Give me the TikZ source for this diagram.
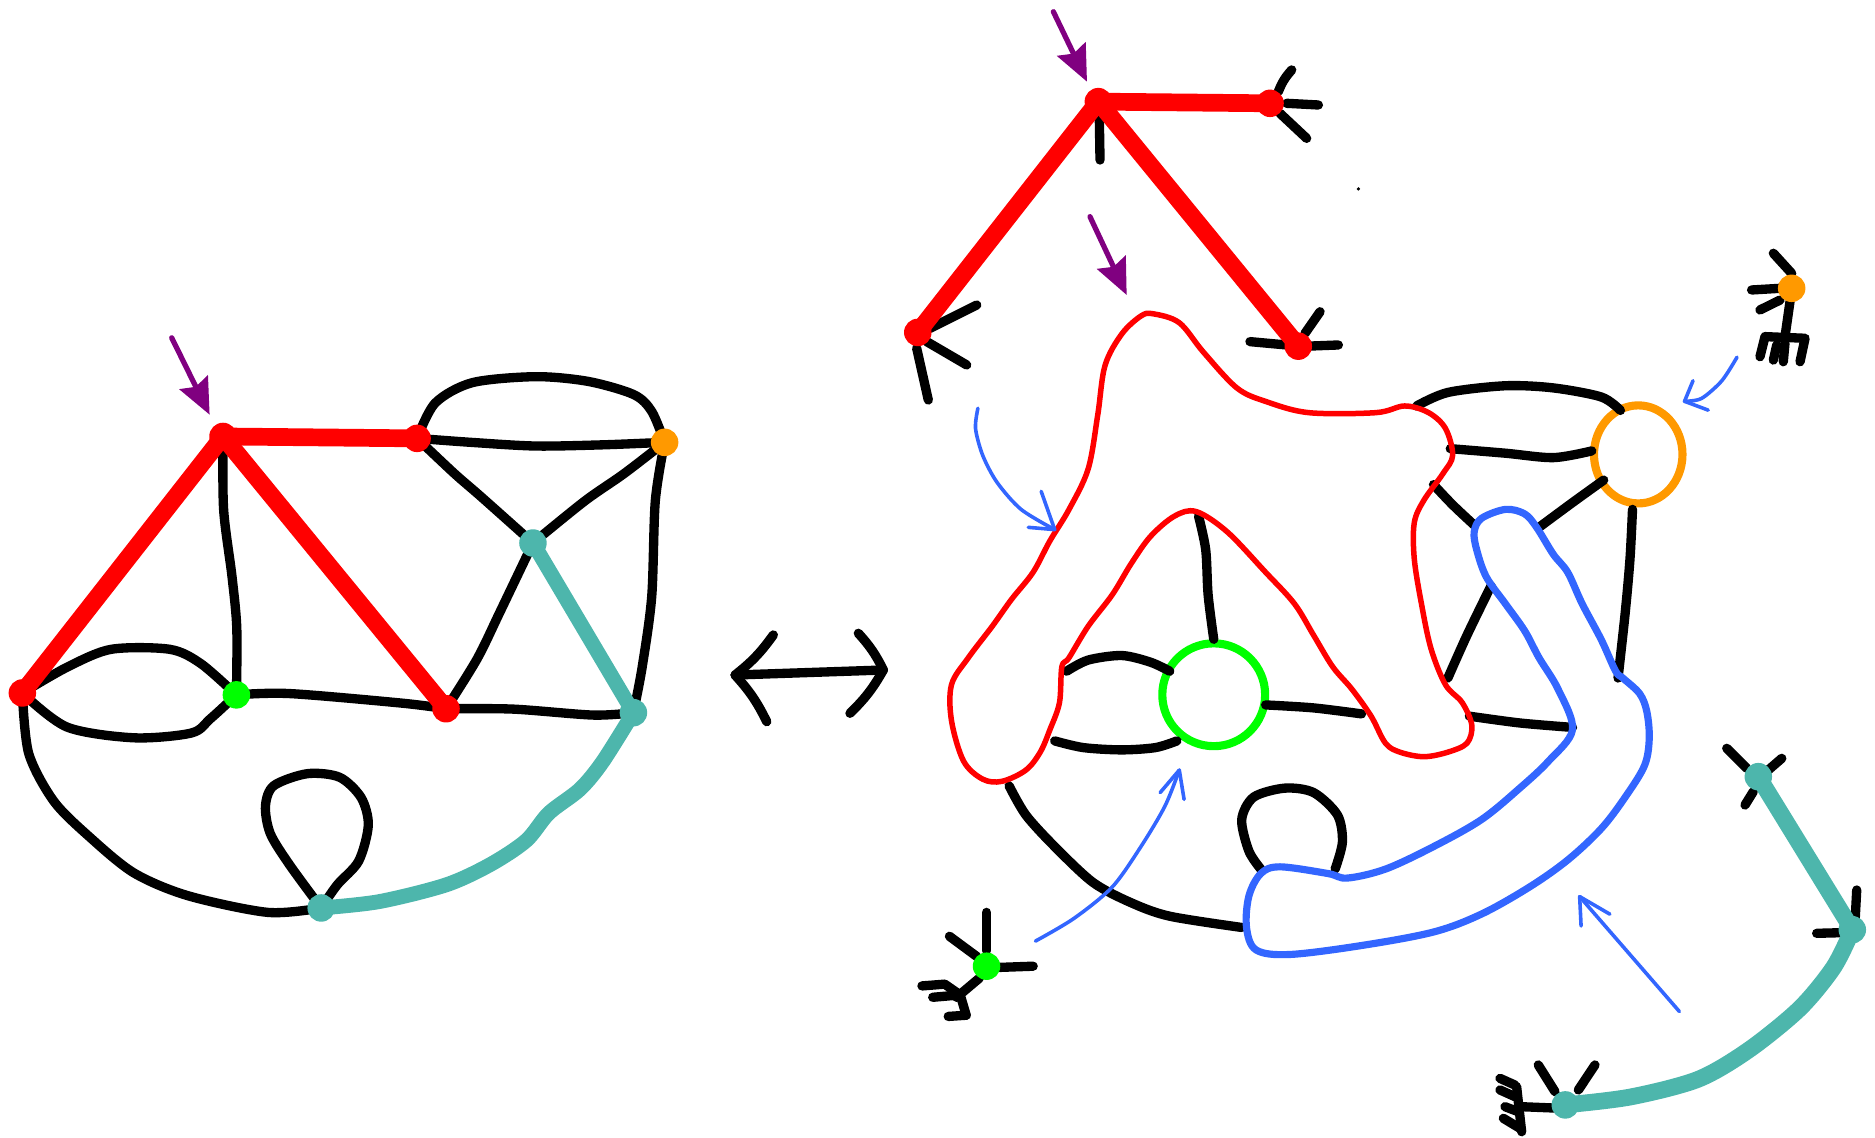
\documentclass[tikz,border=0pt]{standalone}
\usetikzlibrary{arrows.meta,shapes.geometric}
\definecolor{hred}{RGB}{255,0,0}
\definecolor{hgreen}{RGB}{0,255,0}
\definecolor{horange}{RGB}{255,153,0}
\definecolor{hteal}{RGB}{77,182,172}
\definecolor{hblue}{RGB}{51,102,255}
\definecolor{hpurple}{RGB}{128,0,128}
\begin{document}
\begin{tikzpicture}[x=0.5pt,y=-0.5pt,line cap=round,line join=round,
  blk/.style={line width=3.9pt,black},
  redthick/.style={line width=7.4pt,hred},
  tealthick/.style={line width=6.2pt,hteal},
  tealthicker/.style={line width=7pt,hteal},
  redthin/.style={line width=2.3pt,hred},
  bluetube/.style={line width=3pt,hblue},
  bluearrow/.style={line width=1.5pt,hblue},
  vtx/.style={circle,fill=#1,inner sep=0pt,minimum size=11.5pt},
  purplearrow/.style={line width=2.2pt,hpurple,-{Stealth[length=15pt,width=13pt,inset=2pt]}},
  ringnode/.style={circle,draw=#1,line width=3.4pt,inner sep=0pt,minimum size=43pt},
]
\useasboundingbox (0,0) rectangle (1568,951);

% ---------------- left graph ----------------
\coordinate (A) at (186.5,365);
\coordinate (B) at (348.8,366.6);
\coordinate (O) at (555.8,369.9);
\coordinate (T1) at (445.7,454.1);
\coordinate (L) at (18.7,579.5);
\coordinate (G) at (197.7,581.1);
\coordinate (R) at (373,592.7);
\coordinate (T2) at (529.7,596);
\coordinate (T3) at (268.6,759.3);

\draw[blk] plot[smooth] coordinates {(A) (187,426) (194,482) (198,525) (G)};
\draw[blk] plot[smooth] coordinates {(B) (395,370) (448,373) (504,372) (O)};
\draw[blk] plot[smooth] coordinates {(B) (364,337) (395,320) (448,315) (492,319) (530,330) (545,344) (O)};
\draw[blk] plot[smooth] coordinates {(B) (380,396) (403,416) (T1)};
\draw[blk] plot[smooth] coordinates {(O) (522,396) (489,419) (T1)};
\draw[blk] plot[smooth] coordinates {(O) (548,419) (545,499) (537,558) (T2)};
\draw[blk] plot[smooth] coordinates {(T1) (418,512) (399,551) (R)};
\draw[blk] plot[smooth] coordinates {(G) (242,580) (336,588) (R)};
\draw[blk] plot[smooth] coordinates {(R) (429,593) (496,598) (T2)};
\draw[blk] plot[smooth] coordinates {(L) (56,558) (93,543) (142,543) (168,555) (G)};
\draw[blk] plot[smooth] coordinates {(L) (56,608) (112,617) (160,613) (176,601) (G)};
\draw[blk] plot[smooth] coordinates {(L) (24,630) (45,670) (75,700) (112,730) (157,749) (224,763) (T3)};
\draw[blk] plot[smooth] coordinates {(T3) (242,723) (226,697) (222,674) (229,657) (257,647) (284,650) (302,667) (308,690) (300,720) (282,740) (T3)};

\draw[tealthick] (T1) -- (T2);
\draw[tealthick] plot[smooth] coordinates {(T3) (317,754) (373,740) (410,723) (440,703) (459,680) (485,660) (504,637) (T2)};
\draw[redthick] (A) -- (B);
\draw[redthick] (A) -- (L);
\draw[redthick] (A) -- (R);

\node[vtx=hred] (nA) at (A) {};
\node[vtx=hred] (nB) at (B) {};
\node[vtx=hred] (nL) at (L) {};
\node[vtx=hred] (nR) at (R) {};
\node[vtx=hgreen] (nG) at (G) {};
\node[vtx=horange] (nO) at (O) {};
\node[vtx=hteal] (nT1) at (T1) {};
\node[vtx=hteal] (nT2) at (T2) {};
\node[vtx=hteal] (nT3) at (T3) {};

\coordinate (pa1s) at (143.6,282.5);
\coordinate (pa1e) at (175.3,346.8);
\draw[purplearrow] (pa1s) -- (pa1e);

% ---------------- double arrow ----------------
\coordinate (da1) at (614.7,564.5);
\coordinate (da2) at (738.7,560.3);
\draw[blk] (da1) -- (da2);
\draw[blk] (646.7,531) to[bend left=8] (da1) to[bend left=8] (641.2,603.5);
\draw[blk] (717.8,529.6) to[bend left=8] (da2) to[bend left=8] (710.8,596.5);

% ---------------- top tree ----------------
\coordinate (P) at (918.5,85);
\coordinate (Q) at (1062.1,86.4);
\coordinate (S) at (767.5,278);
\coordinate (U) at (1085.7,289.5);
\draw[blk] (919.3,97.6) -- (919.9,133.8);
\draw[blk] (1069,76.7) to[bend left=10] (1080.2,58.5);
\draw[blk] (1076,86.4) -- (1102.5,87.8);
\draw[blk] (1070.4,94.8) -- (1092.7,115.7);
\draw[blk] (777.7,274.6) -- (816.8,255.1);
\draw[blk] (775,285.7) -- (808.4,305.2);
\draw[blk] (766.6,291.3) -- (776.3,334.5);
\draw[blk] (1045.3,285.7) -- (1076,288.5);
\draw[blk] (1095.5,289.4) -- (1119.2,288.5);
\draw[blk] (1091.3,278.8) -- (1103.9,260.7);
\draw[redthick] (P) -- (Q);
\draw[redthick] (P) -- (S);
\draw[redthick] (P) -- (U);
\node[vtx=hred] (nP) at (P) {};
\node[vtx=hred] (nQ) at (Q) {};
\node[vtx=hred] (nS) at (S) {};
\node[vtx=hred] (nU) at (U) {};
\coordinate (pa2s) at (880.9,9.8);
\coordinate (pa2e) at (909,68.3);
\draw[purplearrow] (pa2s) -- (pa2e);
\coordinate (pa3s) at (911.5,181.2);
\coordinate (pa3e) at (942.2,246.7);
\draw[purplearrow] (pa3s) -- (pa3e);
\fill (1136,158) circle [radius=1.5];

% ---------------- right graph ----------------
\node[ringnode=hgreen] (Gc) at (1015,581) {};
\node[ellipse,draw=horange,line width=3.4pt,inner sep=0pt,minimum width=37pt,minimum height=41pt] (Oc) at (1370,380) {};

\draw[blk] plot[smooth] coordinates {(1002.3,431.6) (1008.3,459.8) (1010.3,497.4) (Gc.north)};
\draw[blk] plot[smooth] coordinates {(892,561.3) (910,552) (938.1,548.2) (962.2,553.8) (978.2,561.3)};
\draw[blk] plot[smooth] coordinates {(882,619.6) (906,625.2) (938.1,627.1) (966.2,625.2) (984.2,619.6)};
\draw[blk] plot[smooth] coordinates {(1058.4,589.5) (1098.5,592) (1138.6,597)};
\draw[blk] plot[smooth] coordinates {(1184.7,339.5) (1210.8,328.2) (1258.9,322.6) (1299,324.4) (1339.1,332) (1355.1,343.2)};
\draw[blk] plot[smooth] coordinates {(1212.8,375.2) (1258.9,379) (1299,382.7) (1331.1,377.1)};
\draw[blk] plot[smooth] coordinates {(1198.8,405.3) (1214.8,422.2) (1232.8,439.1)};
\draw[blk] plot[smooth] coordinates {(1341.1,401.5) (1315,420.3) (1287,441)};
\draw[blk] plot[smooth] coordinates {(1365.2,426) (1363.1,467.3) (1359.1,512.4) (1353.1,567)};
\draw[blk] plot[smooth] coordinates {(1246.9,489.9) (1226.8,531.2) (1210.8,567)};
\draw[blk] plot[smooth] coordinates {(1228.8,598.9) (1271,604.6) (1315,608.3)};
\draw[blk] plot[smooth] coordinates {(843.9,657.2) (857.9,681.6) (882,708) (914.1,738) (946.1,755) (978.2,766.2) (1038.4,775.6)};
\draw[blk] plot[smooth] coordinates {(1054.4,726.8) (1044.4,711.7) (1038.4,685.4) (1048.4,666.6) (1074.4,659.1) (1098.5,662.8) (1118.5,681.6) (1122.6,704.2) (1116.5,726.8)};

\draw[redthin] plot[smooth cycle,tension=0.55] coordinates {
(964.2,262.4) (986.2,269.9) (1006.3,294.4) (1034.3,324.4) (1058.4,335.7) (1094.5,345.1)
(1150.6,345.1) (1174.7,339.5) (1194.7,345.1) (1208.8,358.3) (1214.8,380.8) (1206.8,395.9)
(1190.7,418.4) (1182.7,437.2) (1182.7,467.3) (1188.7,504.9) (1196.7,542.5) (1208.8,572.6)
(1222.8,587.6) (1230.8,606.4) (1226.8,621.5) (1210.8,629) (1190.7,632.8) (1170.7,629)
(1158.6,621.5) (1146.6,598.9) (1130.6,576.4) (1114.5,557.6) (1098.5,531.2) (1082.5,504.9)
(1058.4,478.6) (1026.3,444.8) (1000.3,427.8) (982.2,431.6) (962.2,448.5) (946.1,471.1)
(930.1,497.4) (910,523.7) (894,550) (888,557.6) (886,587.6) (878,610.2) (869.9,629)
(857.9,644) (837.9,653.4) (821.8,651.6) (805.8,636.5) (795.7,602.7) (795.7,572.6)
(809.8,550) (829.8,523.7) (845.9,501.2) (863.9,478.6) (878,452.3) (894,426) (910,392.1)
(918,347) (924.1,305.6) (938.1,279.3) (954.1,264.3)};

\draw[bluetube] plot[smooth cycle,tension=0.55] coordinates {
(1238.9,433.5) (1258.9,426) (1274.9,429.7) (1285,441) (1299,463.6) (1311,478.6)
(1323.1,504.9) (1339.1,535) (1351.1,561.3) (1357.1,567) (1371.2,580.1) (1377.2,595.2)
(1379.2,617.7) (1375.2,640.3) (1359.1,666.6) (1339.1,692.9) (1311,719.2) (1279,741.8)
(1238.9,764.4) (1198.8,779.4) (1138.6,790.7) (1078.5,798.2) (1050.4,794.4) (1042.4,775.6)
(1044.4,749.3) (1054.4,730.5) (1070.4,724.9) (1110.5,730.5) (1126.6,734.3) (1158.6,726.8)
(1198.8,708) (1238.9,685.4) (1270.9,659.1) (1295,636.5) (1315,610.2) (1303,576.4)
(1287,550) (1275,527.5) (1258.9,504.9) (1242.9,482.4) (1234.9,459.8) (1232.8,444.8)};

% blue hand-drawn arrows
\draw[bluearrow] plot[smooth] coordinates {(817.8,341.4) (815.8,358.3) (821.8,380.8) (833.8,403.4) (853.9,426) (882,442.9)};
\draw[bluearrow] (870.7,410.9) -- (882,442.9) -- (859.9,441);
\draw[bluearrow] plot[smooth] coordinates {(865.9,787) (898,768.1) (930.1,741.8) (954.1,708) (974.2,674.1) (986.2,644)};
\draw[bluearrow] (970.2,662.8) -- (986.2,644) -- (990.2,668.5);
\draw[bluearrow] (1404.4,845.9) -- (1321,749.8);
\draw[bluearrow] (1322.2,774.4) -- (1321,749.8) -- (1346.3,764.5);
\draw[bluearrow] plot[smooth] coordinates {(1452.6,298.7) (1439.9,318.4) (1422.9,333.2) (1408.7,335.6)};
\draw[bluearrow] (1415.8,318.4) -- (1408.7,335.6) -- (1428.5,343);

% ---------------- green star ----------------
\coordinate (gs) at (825,808);
\draw[blk] (825,763) -- (825,795);
\draw[blk] (836,809) -- (864,808);
\draw[blk] (794,783) -- (817,800);
\draw[blk] (819,818) -- (800,834);
\draw[blk] (771,824.5) -- (790,823) -- (803,832) -- (808,849);
\draw[blk] (780,834) -- (803,832);
\draw[blk] (793,850) -- (808,849);
\node[vtx=hgreen] (ngs) at (gs) {};

% ---------------- orange star ----------------
\coordinate (os) at (1498.3,241.1);
\draw[blk] (1483,211.8) -- (1498.3,228.6);
\draw[blk] (1464.8,242.5) -- (1488.6,241.1);
\draw[blk] (1471.8,259.2) -- (1488.6,250.9);
\draw[blk] (1496.9,252.3) -- (1492.7,281.5);
\draw[blk] (1471.8,298.3) -- (1476,281.5) -- (1509.5,282.9) -- (1505.3,302.5);
\draw[blk] (1485.8,288.5) -- (1483,301.1);
\draw[blk] (1492.7,287.1) -- (1491.3,302.5);
\node[vtx=horange] (nos) at (os) {};

% ---------------- teal pieces ----------------
\coordinate (V1) at (1470.4,649.5);
\coordinate (V2) at (1549,777.5);
\coordinate (V3) at (1309,924);
\draw[blk] (1444,625.8) -- (1460.7,642.5);
\draw[blk] (1490,634.2) -- (1478.8,643.9);
\draw[blk] (1466.2,662) -- (1459.3,673.2);
\draw[blk] (1552.7,744.3) -- (1551.3,770.8);
\draw[blk] (1519.2,780.5) -- (1538.7,780);
\draw[blk] (1286.4,890.6) -- (1300.4,912.9);
\draw[blk] (1333.8,890.6) -- (1319.9,911.5);
\draw[blk] (1272.5,925.5) -- (1304.6,926.8);
\draw[blk] (1254.4,901.8) -- (1266.9,907.4);
\draw[blk] (1254.4,911.5) -- (1266.9,917.1);
\draw[blk] (1258.6,925.5) -- (1269.7,929.7);
\draw[blk] (1257.2,935.2) -- (1271.1,943.6);
\draw[blk] (1268.3,908.8) -- (1272.5,946.4);
\draw[tealthicker] (V1) -- (V2);
\draw[tealthicker] plot[smooth] coordinates {(V2) (1533.4,808.9) (1505,843.4) (1462.6,877.9) (1420,902.6) (1363.3,917.4) (V3)};
\node[vtx=hteal] (nV1) at (V1) {};
\node[vtx=hteal] (nV2) at (V2) {};
\node[vtx=hteal] (nV3) at (V3) {};
\end{tikzpicture}
\end{document}
